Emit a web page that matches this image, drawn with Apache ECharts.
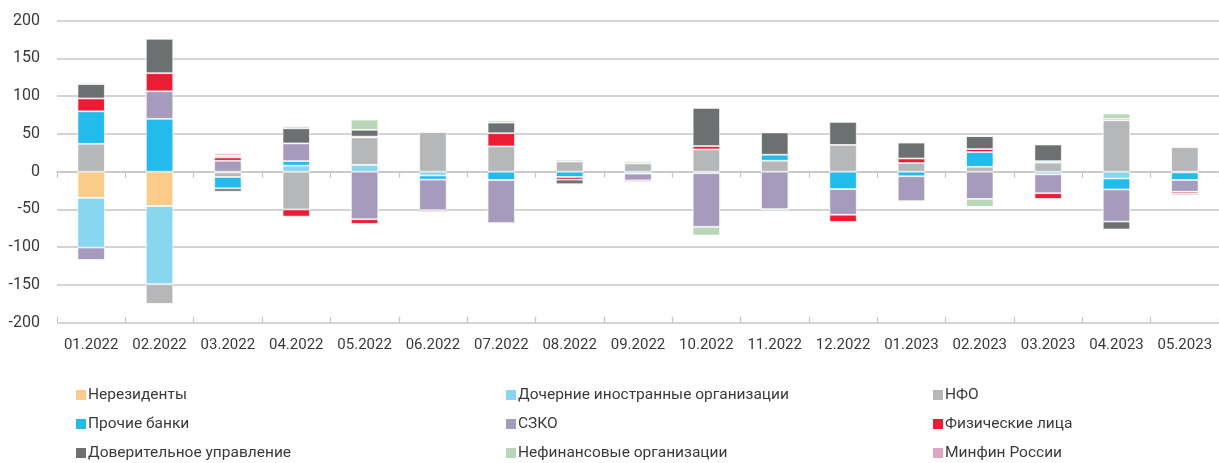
<!DOCTYPE html>
<html>
<head>
<meta charset="utf-8">
<script src="https://cdn.jsdelivr.net/npm/echarts@6/dist/echarts.min.js"></script>
<style>
  html, body { margin: 0; padding: 0; background: #fff; }
  #chart { width: 1219px; height: 463px; }
</style>
</head>
<body>
<div id="chart"></div>
<script>
// Месяцы
const months = ['01.2022','02.2022','03.2022','04.2022','05.2022','06.2022','07.2022','08.2022','09.2022',
                '10.2022','11.2022','12.2022','01.2023','02.2023','03.2023','04.2023','05.2023'];

// Значения по группам участников (0 — нет сегмента)
const nonResidents   = [-34.5, -45.5, -1, 0, 0, 0, 0, 0, 0, 0, 0, 0, 0, 0, 0, 0, 0];
const foreignSubs    = [-66, -103.5, 0, 8, 9, -5, 0, 0, -2.5, -2, 0, 0, 0, 0, -3.5, -9, -1];
const nfo            = [37, -26, -6, -50, 36.5, 52.5, 33.5, 13.5, 11, 29.5, 14.5, 35.5, 11.5, 6.5, 12, 68, 32.5];
const otherBanks     = [43, 70, -15, 6, 1, -5.5, -11, -7, 0, 0, 8, -23, -6, 19.5, 2, -14.5, -10];
const sziko          = [-16.5, 36.5, 14.5, 23.5, -63, -40.5, -57, 0, -9, -71, -49.5, -34, -33, -36, -25, -42.5, -15.5];
const individuals    = [17, 24, 4.5, -9.5, -6, -2, 17.5, -3.5, -2, 4.5, 0, -9.5, 6, 4, -7.5, 2, -2.5];
const trustMgmt      = [19, 45.5, -4.4, 20, 9, 0, 14, -6, 0, 50.5, 29.5, 30.5, 21, 17, 22, -10.5, -2];
const nonFinancial   = [2, 0, 2.5, 0, 13.5, 1, 3, 2.5, 2.5, -11.5, -3, 0, 0, -10.5, 0, 7, -1];
const minfin         = [-0.5, -1, 3, 2.5, 0, 0, 0.5, 0, 0, 0.5, 0.5, 0.5, 0.5, 1, 1, 0, 0];

const yTicks = [-200, -150, -100, -50, 0, 50, 100, 150, 200];

const groups = [
  { name: 'Нерезиденты', data: nonResidents, color: '#FBCB8A' },
  { name: 'Дочерние иностранные организации', data: foreignSubs, color: '#88D6F0' },
  { name: 'НФО', data: nfo, color: '#B6B7B8' },
  { name: 'Прочие банки', data: otherBanks, color: '#22BBEC' },
  { name: 'СЗКО', data: sziko, color: '#A69BBD' },
  { name: 'Физические лица', data: individuals, color: '#EE1B34' },
  { name: 'Доверительное управление', data: trustMgmt, color: '#6D7070' },
  { name: 'Нефинансовые организации', data: nonFinancial, color: '#B9D6B8' },
  { name: 'Минфин России', data: minfin, color: '#E0A3C0' }
];

const FONT = 'Roboto, "Noto Sans", sans-serif';
const TEXT = '#3a3a3a';
const GRID = '#c6c6c6';

const series = groups.map(g => ({
  name: g.name,
  type: 'bar',
  stack: 'total',
  xAxisIndex: 0,
  barWidth: '40%',
  itemStyle: { color: g.color, borderColor: 'rgba(255,255,255,0.85)', borderWidth: 0.8 },
  emphasis: { disabled: true },
  data: g.data.map(v => (v === 0 ? null : v))
}));

// Легенда: три столбца по три строки, по одному элементу на компонент
const legendCols = [76, 506, 933];
const legendRows = [386, 415, 444];
const legends = groups.map((g, i) => ({
  orient: 'horizontal',
  left: legendCols[i % 3],
  top: legendRows[Math.floor(i / 3)],
  padding: 0,
  icon: 'rect',
  itemWidth: 10,
  itemHeight: 10,
  itemStyle: { borderWidth: 0 },
  textStyle: { fontFamily: FONT, fontSize: 15.5, color: TEXT, lineHeight: 18, padding: [0, 0, 0, -3] },
  selectedMode: false,
  data: [g.name]
}));

const option = {
  animation: false,
  backgroundColor: '#fff',
  grid: { left: 57, right: -5.4, top: 20.7, bottom: 140.3, containLabel: false },
  legend: legends,
  xAxis: [
    {
      type: 'category', data: months, position: 'bottom',
      axisLine: { show: true, onZero: true, lineStyle: { color: GRID, width: 1.5 } },
      axisTick: { show: true, length: 6, inside: false, lineStyle: { color: GRID, width: 1.3 } },
      axisLabel: { show: false }, splitLine: { show: false }
    },
    {
      type: 'category', data: months, position: 'bottom',
      axisLine: { show: false, onZero: true },
      axisTick: { show: true, length: 6, inside: true, lineStyle: { color: GRID, width: 1.3 } },
      axisLabel: { show: false }, splitLine: { show: false }
    },
    {
      type: 'category', data: months, position: 'bottom',
      axisLine: { show: false, onZero: false },
      axisTick: { show: false },
      axisLabel: { show: true, margin: 15, fontFamily: FONT, fontSize: 15, color: TEXT, interval: 0 },
      splitLine: { show: false }
    }
  ],
  yAxis: {
    type: 'value',
    min: yTicks[0], max: yTicks[yTicks.length - 1], interval: 50,
    axisLine: { show: false },
    axisTick: { show: false },
    axisLabel: { margin: 17, fontFamily: FONT, fontSize: 16, color: TEXT },
    splitLine: { lineStyle: { color: GRID, width: 1.5 } }
  },
  series: series
};

const chart = echarts.init(document.getElementById('chart'), null, { renderer: 'canvas' });
chart.setOption(option);
</script>
</body>
</html>
